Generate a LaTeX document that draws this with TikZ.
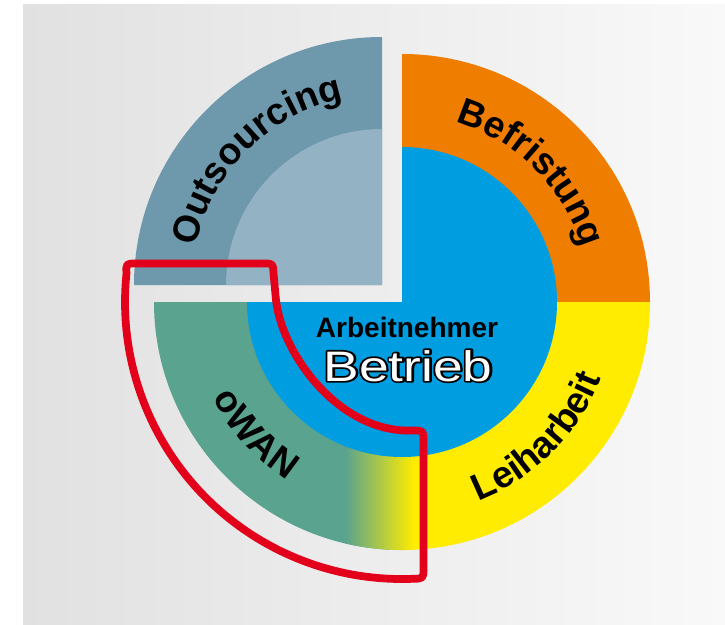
\documentclass[tikz,border=0pt]{standalone}
\usepackage{fontspec}
\setmainfont{Liberation Sans}
\usetikzlibrary{calc,decorations.text}
\definecolor{bgL}{HTML}{E1E1E1}
\definecolor{bgR}{HTML}{F9F9F9}
\definecolor{orangeC}{HTML}{EF7D00}
\definecolor{yellowC}{HTML}{FFEC00}
\definecolor{blueC}{HTML}{009EE0}
\definecolor{greenC}{HTML}{5AA38F}
\definecolor{outD}{HTML}{6E98AB}
\definecolor{outL}{HTML}{93B2C3}
\definecolor{redC}{HTML}{E2001A}
\newcommand\curvefont{\bfseries\fontsize{28}{30}\selectfont}
\newcommand\outlinedword[1]{\rlap{\color{black}\special{pdf:code q 1 Tr 2.6 w 1 j}#1\special{pdf:code Q}}{\color{white}#1}}
\tikzset{
  curvetext/.style={decorate,decoration={text along path,text align=center,text={|\curvefont|#1}}},
  redline/.style={draw=redC,line width=5.8pt,line join=round},
}
\begin{document}
\begin{tikzpicture}[x=0.75pt,y=-0.75pt]
\useasboundingbox (0,0) rectangle (725,625);
\coordinate (C) at (402,302);
\coordinate (C2) at (382,285);
% background
\shade[left color=bgL,right color=bgR] (23,4) rectangle (725,625);
% main sectors
\fill[orangeC] (C) -- ($(C)+(-90:248)$) arc[start angle=-90,end angle=0,radius=248] -- cycle;
\fill[yellowC] (C) -- ($(C)+(0:248)$) arc[start angle=0,end angle=90,radius=248] -- cycle;
\fill[greenC] (C) -- ($(C)+(90:248)$) arc[start angle=90,end angle=180,radius=248] -- cycle;
\begin{scope}
  \clip (C) -- ($(C)+(60:248)$) arc[start angle=60,end angle=180,radius=248] -- cycle;
  \shade[left color=greenC,right color=yellowC] (345,302) rectangle (414,560);
\end{scope}
\fill[blueC] (C) -- ($(C)+(180:155)$) arc[start angle=180,end angle=-90,radius=155] -- cycle;
% outsourcing sector
\fill[outD] (C2) -- ($(C2)+(180:248)$) arc[start angle=180,end angle=270,radius=248] -- cycle;
\fill[outL] (C2) -- ($(C2)+(180:156)$) arc[start angle=180,end angle=270,radius=156] -- cycle;
% curved labels
\path[curvetext=Befristung] ($(C)+(-90:188)$) arc[start angle=-90,end angle=0,radius=188];
\path[curvetext=Outsourcing] ($(C2)+(180:190)$) arc[start angle=180,end angle=270,radius=190];
\path[curvetext=Leiharbeit] ($(C)+(90:213)$) arc[start angle=90,end angle=0,radius=213];
\path[curvetext=oWAN] ($(C)+(183:212)$) arc[start angle=183,end angle=93,radius=212];
% centre texts
\node[anchor=base,inner sep=0pt,font=\bfseries\fontsize{21}{23}\selectfont] (an) at (407,337) {Arbeitnehmer};
\node[anchor=base,inner sep=0pt,font=\fontsize{32}{34}\selectfont] (betrieb) at (408,381)
  {\scalebox{1.25}[1]{\outlinedword{Betrieb}}};
% red outline
\draw[redline] (136,263.5) -- (264,263.5) .. controls (273,263.5) .. (273.5,273)
  -- (275.5,295) .. controls (279,350) and (335,428) .. (405,430.5)
  -- (413,430.5) .. controls (423.5,430.5) .. (423.5,441)
  -- (423.5,568) .. controls (423.5,578.6) .. (413.1,578.8)
  arc[start angle=87.7,end angle=185.9,radius=277]
  .. controls (126,263.5) .. (136,263.5) -- cycle;
\end{tikzpicture}
\end{document}
